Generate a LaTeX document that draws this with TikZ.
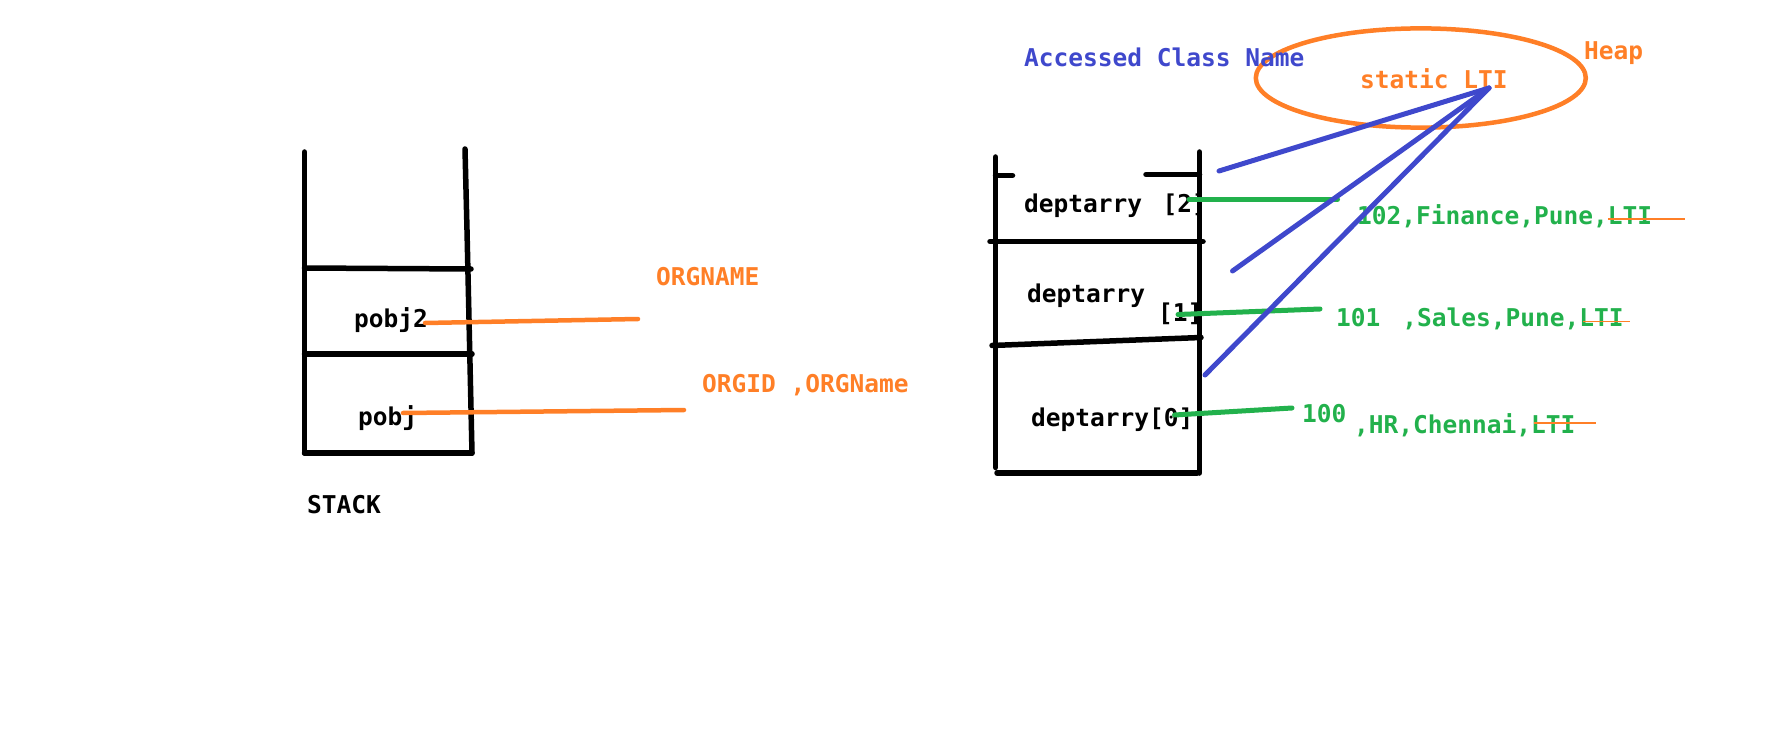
\documentclass[tikz,border=0pt]{standalone}
\usepackage{fontspec}
\setmonofont{DejaVu Sans Mono}
\definecolor{porange}{HTML}{FF7F27}
\definecolor{pgreen}{HTML}{22B14C}
\definecolor{pblue}{HTML}{3F48CC}
\begin{document}
\begin{tikzpicture}[x=1pt,y=-1pt,
  txt/.style={font=\ttfamily\bfseries\fontsize{24.5}{24.5}\selectfont, inner sep=0pt, anchor=base west},
  blk/.style={line width=5.5pt, line cap=round, black},
  oline/.style={line width=4.5pt, line cap=round, porange},
  gline/.style={line width=5pt, line cap=round, pgreen},
  bline/.style={line width=5pt, line cap=round, pblue},
  strike/.style={line width=1.3pt, porange}
]
\useasboundingbox (0,0) rectangle (1788,754);

% ---------- left stack ----------
\draw[blk] (304.5,152) -- (304.5,453);
\draw[blk] (465,149) -- (467,230) -- (472,453);
\draw[blk] (304.5,268) -- (471,269);
\draw[blk] (304.5,354) -- (472,354);
\draw[blk] (304.5,453) -- (472,453);

\node[txt] (pobj2) at (354,327) {pobj2};
\node[txt] (pobj) at (358,425) {pobj};
\node[txt] (stack) at (307,513) {STACK};
\node[txt,porange] (orgname) at (656,285) {ORGNAME};
\node[txt,porange] (orgid) at (702,392) {ORGID ,ORGName};

\coordinate (p2s) at (425,323);
\coordinate (p2e) at (638,319);
\coordinate (p1s) at (403,413);
\coordinate (p1e) at (684,410);
\draw[oline] (p2s) -- (p2e);
\draw[oline] (p1s) -- (p1e);

% ---------- heap ----------
\draw[porange, line width=4.5pt] (1420.8,78) ellipse [x radius=165, y radius=49.6];
\node[txt,pblue] (acn) at (1024,67) {Accessed Class Name};
\node[txt,porange] (slti) at (1360,89) {static LTI};
\node[txt,porange] (heap) at (1584,60) {Heap};

% ---------- right array ----------
\draw[blk] (995.5,157) -- (995.5,467.5);
\draw[blk] (995.5,175.5) -- (1012.5,175.5);
\draw[blk] (1146,174.5) -- (1199.5,174.5);
\draw[blk] (1199.5,152) -- (1199.5,473);
\draw[blk] (990,241.5) -- (1203,241.5);
\draw[blk] (992,345.5) -- (1201,337.5);
\draw[blk] (997,473) -- (1197,473);

\node[txt] (d2) at (1024,213) {deptarry\hspace{20.5pt}[2]};
\node[txt] (d1) at (1027,302) {deptarry};
\node[txt] (d1i) at (1158,321) {[1]};
\node[txt] (d0) at (1031,426) {deptarry[0]};

\node[txt,pgreen] (r2) at (1357,225) {102,Finance,Pune,LTI};
\node[txt,pgreen] (r1) at (1336,326) {101\hspace{22pt},Sales,Pune,LTI};
\node[txt,pgreen] (r0a) at (1302,422) {100};
\node[txt,pgreen] (r0b) at (1354,433) {,HR,Chennai,LTI};

% green links
\coordinate (g2s) at (1189,199.5);
\coordinate (g2e) at (1337.5,199.5);
\coordinate (g1s) at (1178,314.5);
\coordinate (g1e) at (1320,309);
\coordinate (g0s) at (1174.5,415);
\coordinate (g0e) at (1292,408);
\draw[gline] (g2s) -- (g2e);
\draw[gline] (g1s) -- (g1e);
\draw[gline] (g0s) -- (g0e);

% strike-throughs
\coordinate (s2a) at (1608,219); \coordinate (s2b) at (1685,219);
\coordinate (s1a) at (1583,321.5); \coordinate (s1b) at (1630,321.5);
\coordinate (s0a) at (1534,423); \coordinate (s0b) at (1596,423);
\draw[strike] (s2a) -- (s2b);
\draw[strike] (s1a) -- (s1b);
\draw[strike] (s0a) -- (s0b);

% blue links to static LTI
\coordinate (tip) at (1489,88);
\coordinate (b2) at (1219,171);
\coordinate (b1) at (1232.5,271);
\coordinate (b0) at (1205,375);
\draw[bline] (b2) -- (tip);
\draw[bline] (b1) -- (tip);
\draw[bline] (b0) -- (tip);
\end{tikzpicture}
\end{document}
